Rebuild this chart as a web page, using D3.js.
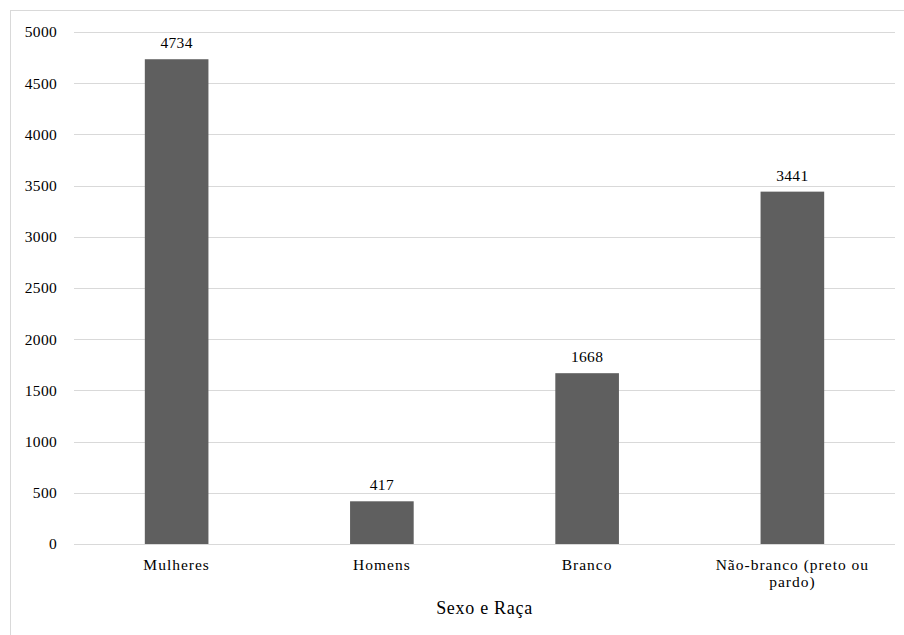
<!DOCTYPE html>
<html><head><meta charset="utf-8">
<script src="https://cdn.jsdelivr.net/npm/d3@7"></script>
<style>body{margin:0;background:#fff}svg{display:block}</style>
</head><body>
<svg id="c" width="904" height="635"></svg>
<script>
const categories = ["Mulheres", "Homens", "Branco", "Não-branco (preto ou pardo)"];
const values = [4734, 417, 1668, 3441];
const yTicks = [0, 500, 1000, 1500, 2000, 2500, 3000, 3500, 4000, 4500, 5000];
const axisTitle = "Sexo e Raça";

const svg = d3.select("#c");
const font = '"Liberation Serif", "Times New Roman", serif';
const m = {left: 74, right: 9, top: 32, bottom: 91};
const W = 904, H = 635;

// outer border
svg.append("rect").attr("x", 10.5).attr("y", 10.5).attr("width", 904).attr("height", 640)
  .attr("fill", "none").attr("stroke", "#d9d9d9").attr("stroke-width", 1);

const x = d3.scaleBand().domain(categories).range([m.left, W - m.right]).paddingInner(0.69).paddingOuter(0.345);
const y = d3.scaleLinear().domain([0, 5000]).range([H - m.bottom, m.top]);

// gridlines
svg.append("g").selectAll("line").data(yTicks).join("line")
  .attr("x1", m.left).attr("x2", W - m.right)
  .attr("y1", d => Math.round(y(d)) + 0.5).attr("y2", d => Math.round(y(d)) + 0.5)
  .attr("stroke", "#d9d9d9").attr("stroke-width", 1);

// y axis labels
const ya = svg.append("g").attr("transform", `translate(${m.left - 17},0)`)
  .call(d3.axisLeft(y).tickValues(yTicks).tickFormat(d3.format("d")).tickSize(0).tickPadding(0));
ya.attr("font-family", null).attr("font-size", null);
ya.select(".domain").remove();
ya.selectAll("text").style("font-family", font).style("font-size", "15.5px").style("letter-spacing", "0.3px").attr("fill", "#000");

// bars
svg.append("g").selectAll("rect").data(values).join("rect")
  .attr("x", (d, i) => x(categories[i])).attr("width", x.bandwidth())
  .attr("y", d => y(d)).attr("height", d => y(0) - y(d))
  .attr("fill", "#5f5f5f");

// value labels
svg.append("g").selectAll("text").data(values).join("text")
  .attr("x", (d, i) => x(categories[i]) + x.bandwidth() / 2)
  .attr("y", d => y(d) - 11)
  .attr("text-anchor", "middle").attr("fill", "#000")
  .style("font-family", font).style("font-size", "15.5px").style("letter-spacing", "0.3px")
  .text(d => d);

// category labels (wrapped)
const wrapped = {"Não-branco (preto ou pardo)": ["Não-branco (preto ou", "pardo)"]};
const cg = svg.append("g");
categories.forEach(c => {
  const lines = wrapped[c] || [c];
  const t = cg.append("text").attr("text-anchor", "middle").attr("fill", "#000")
    .style("font-family", font).style("font-size", "15.5px").style("letter-spacing", "1px");
  lines.forEach((l, i) => {
    t.append("tspan").attr("x", x(c) + x.bandwidth() / 2).attr("y", 570 + i * 17).text(l);
  });
});

// axis title
svg.append("text").attr("x", (m.left + W - m.right) / 2).attr("y", 614)
  .attr("text-anchor", "middle").attr("fill", "#000")
  .style("font-family", font).style("font-size", "18px").style("letter-spacing", "0.7px")
  .text(axisTitle);
</script>
</body></html>
